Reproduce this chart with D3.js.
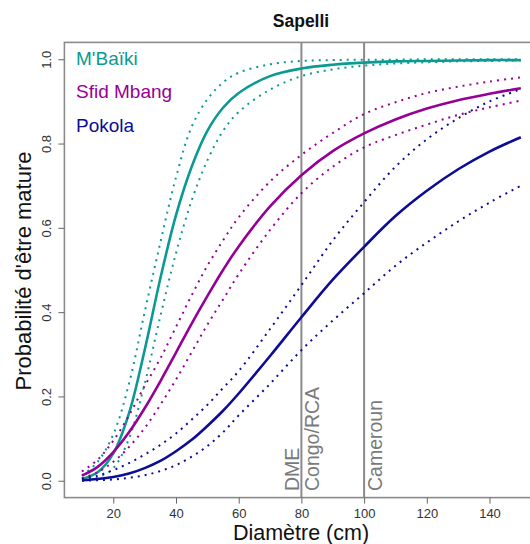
<!DOCTYPE html>
<html>
<head>
<meta charset="utf-8">
<script src="https://cdn.jsdelivr.net/npm/d3@7"></script>
<style>
  body { margin: 0; background: #fff; }
  svg { font-family: "Liberation Sans", Arial, sans-serif; }
</style>
</head>
<body>
<svg id="chart" width="530" height="544"></svg>
<script>
// diameters (cm) where the curves were read
var diam = [10, 15, 20, 25, 30, 35, 40, 45, 50, 55, 60, 70, 80, 90, 100, 110, 120, 130, 140, 150];

// M'Baiki : fit, lower and upper bounds
var mbaikiFit = [0.004, 0.02, 0.065, 0.16, 0.31, 0.48, 0.63, 0.745, 0.83, 0.885, 0.92, 0.96, 0.978, 0.987, 0.992, 0.995, 0.996, 0.997, 0.998, 0.998];
var mbaikiLo  = [0.001, 0.008, 0.03, 0.10, 0.23, 0.39, 0.54, 0.665, 0.76, 0.83, 0.875, 0.928, 0.96, 0.976, 0.985, 0.99, 0.993, 0.995, 0.996, 0.997];
var mbaikiHi  = [0.012, 0.045, 0.11, 0.23, 0.40, 0.565, 0.72, 0.84, 0.905, 0.945, 0.968, 0.988, 0.996, 0.998, 0.999, 0.999, 1, 1, 1, 1];

// Sfid Mbang
var sfidFit = [0.012, 0.033, 0.068, 0.115, 0.172, 0.236, 0.304, 0.373, 0.438, 0.50, 0.556, 0.651, 0.725, 0.782, 0.824, 0.857, 0.883, 0.903, 0.918, 0.931];
var sfidLo  = [0.006, 0.02, 0.045, 0.08, 0.125, 0.18, 0.24, 0.305, 0.37, 0.43, 0.49, 0.595, 0.682, 0.745, 0.791, 0.82, 0.845, 0.868, 0.886, 0.902];
var sfidHi  = [0.022, 0.05, 0.095, 0.155, 0.225, 0.29, 0.365, 0.44, 0.51, 0.57, 0.625, 0.71, 0.773, 0.825, 0.87, 0.898, 0.92, 0.935, 0.947, 0.957];

// Pokola
var pokolaFit = [0.001, 0.004, 0.009, 0.017, 0.03, 0.047, 0.07, 0.097, 0.13, 0.166, 0.207, 0.296, 0.388, 0.477, 0.555, 0.628, 0.688, 0.739, 0.781, 0.815];
var pokolaLo  = [0.0002, 0.001, 0.003, 0.007, 0.013, 0.023, 0.037, 0.057, 0.082, 0.115, 0.155, 0.23, 0.31, 0.38, 0.445, 0.51, 0.565, 0.615, 0.66, 0.70];
var pokolaHi  = [0.004, 0.012, 0.025, 0.042, 0.062, 0.085, 0.112, 0.145, 0.18, 0.22, 0.26, 0.36, 0.464, 0.57, 0.661, 0.745, 0.81, 0.86, 0.90, 0.929];

var sites = ["M'Baïki", "Sfid Mbang", "Pokola"];
var colors = ["#0a9a91", "#960096", "#0c0c96"];

// reference diameters (vertical lines)
var refDiam = [80, 100];
var refLabels = [["DME", 80, -1], ["Congo/RCA", 80, 1], ["Cameroun", 100, 1]];

var xTicks = [20, 40, 60, 80, 100, 120, 140];
var yTicks = [0, 0.2, 0.4, 0.6, 0.8, 1.0];

var svg = d3.select("#chart");

// plot region (R style, 4% extension)
var x = d3.scaleLinear().domain([4.4, 155.6]).range([64.4, 538.4]);
var y = d3.scaleLinear().domain([-0.04, 1.04]).range([497.6, 42.4]);

svg.append("clipPath").attr("id", "clip")
  .append("rect").attr("x", 64.4).attr("y", 42.4).attr("width", 474).attr("height", 455.2);

// box
svg.append("rect")
  .attr("x", 64.4).attr("y", 42.4).attr("width", 474).attr("height", 455.2)
  .attr("fill", "none").attr("stroke", "#8a8a8a").attr("stroke-width", 1.6);

// vertical reference lines
svg.selectAll(".ref").data(refDiam).enter().append("line")
  .attr("x1", function (d) { return x(d); }).attr("x2", function (d) { return x(d); })
  .attr("y1", 42.4).attr("y2", 497.6)
  .attr("stroke", "#8a8a8a").attr("stroke-width", 2);

svg.selectAll(".reflab").data(refLabels).enter().append("text")
  .attr("transform", function (d) {
    var px = x(d[1]) + (d[2] < 0 ? -2 : 18);
    return "translate(" + px + ",491) rotate(-90)";
  })
  .attr("fill", "#7a7a7a").attr("font-size", 19.5)
  .text(function (d) { return d[0]; });

// curves
var line = d3.line()
  .x(function (d) { return x(d[0]); })
  .y(function (d) { return y(d[1]); })
  .curve(d3.curveCatmullRom);

var series = [
  [mbaikiFit, mbaikiLo, mbaikiHi],
  [sfidFit, sfidLo, sfidHi],
  [pokolaFit, pokolaLo, pokolaHi]
];

var g = svg.append("g").attr("clip-path", "url(#clip)");
series.forEach(function (s, i) {
  [s[1], s[2]].forEach(function (vals) {
    g.append("path")
      .datum(d3.zip(diam, vals))
      .attr("d", line)
      .attr("fill", "none")
      .attr("stroke", colors[i])
      .attr("stroke-width", 2)
      .attr("stroke-dasharray", "2,5");
  });
  g.append("path")
    .datum(d3.zip(diam, s[0]))
    .attr("d", line)
    .attr("fill", "none")
    .attr("stroke", colors[i])
    .attr("stroke-width", 2.6);
});

// axes
var xAxis = svg.append("g")
  .attr("transform", "translate(0,497.6)")
  .call(d3.axisBottom(x).tickValues(xTicks).tickSize(6).tickPadding(5));
xAxis.select(".domain").remove();
xAxis.selectAll("line").attr("stroke", "#666");
xAxis.selectAll("text").attr("font-size", 13).attr("fill", "#333")
  .attr("font-family", "Liberation Sans, Arial, sans-serif");

var yAxis = svg.append("g")
  .attr("transform", "translate(64.4,0)")
  .call(d3.axisLeft(y).tickValues(yTicks).tickSize(6).tickFormat(d3.format(".1f")));
yAxis.select(".domain").remove();
yAxis.selectAll("line").attr("stroke", "#666");
yAxis.selectAll("text")
  .attr("x", null).attr("dy", null)
  .attr("transform", "translate(-13.5,0) rotate(-90)")
  .attr("text-anchor", "middle")
  .attr("font-size", 13).attr("fill", "#333")
  .attr("font-family", "Liberation Sans, Arial, sans-serif");

// legend
sites.forEach(function (s, i) {
  svg.append("text")
    .attr("x", 76).attr("y", 65 + i * 33.3)
    .attr("fill", colors[i]).attr("font-size", 19)
    .text(s);
});

// titles
svg.append("text")
  .attr("x", 301).attr("y", 26.5).attr("text-anchor", "middle")
  .attr("font-weight", "bold").attr("font-size", 17.5).attr("fill", "#111")
  .text("Sapelli");

svg.append("text")
  .attr("x", 301).attr("y", 539.5).attr("text-anchor", "middle")
  .attr("font-size", 21.5).attr("fill", "#111")
  .text("Diamètre (cm)");

svg.append("text")
  .attr("transform", "translate(31,271) rotate(-90)")
  .attr("text-anchor", "middle")
  .attr("font-size", 22).attr("fill", "#111")
  .text("Probabilité d'être mature");
</script>
</body>
</html>
